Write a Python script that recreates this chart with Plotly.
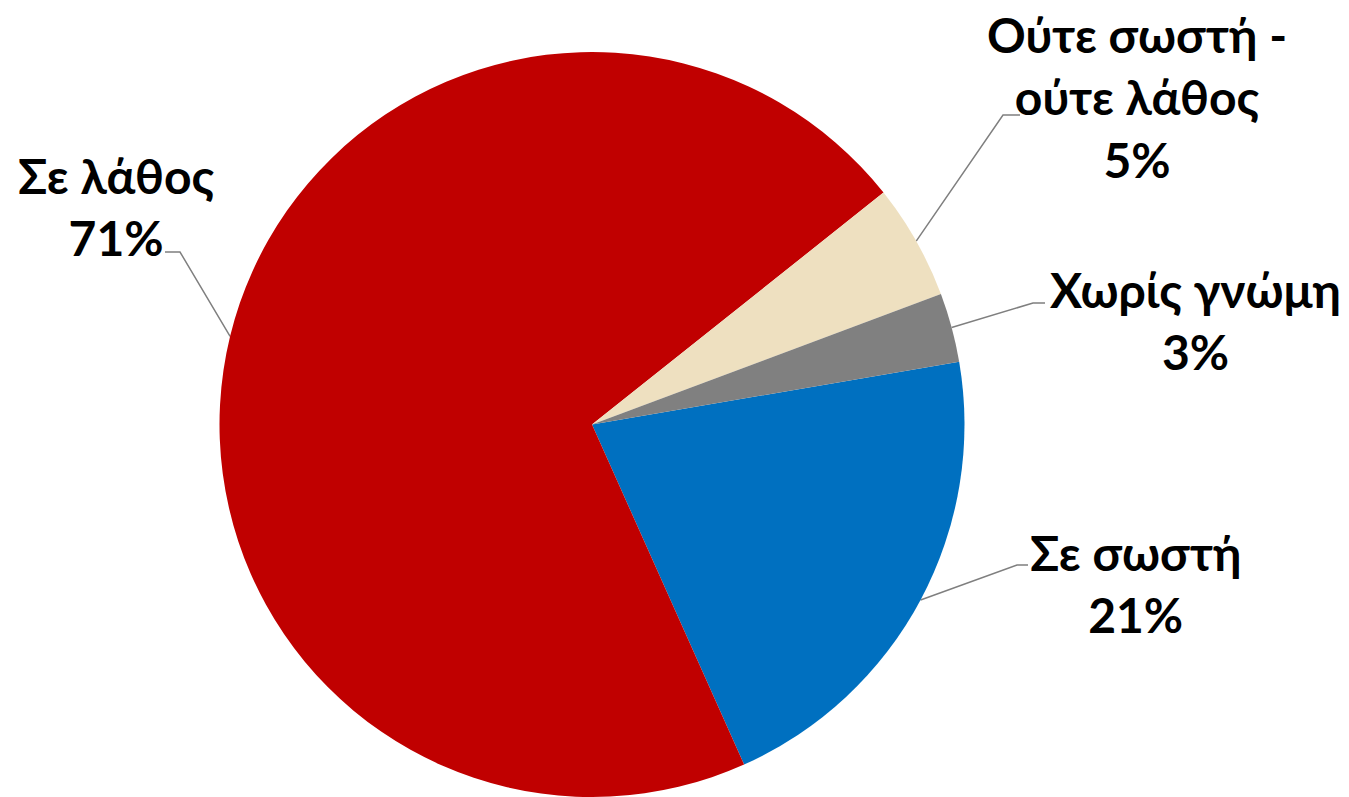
import math
import plotly.graph_objects as go

labels = ["Σε σωστή", "Σε λάθος", "Ούτε σωστή -<br>ούτε λάθος", "Χωρίς γνώμη"]
values = [21, 71, 5, 3]
colors = ["#0070C0", "#C00000", "#EEE0C0", "#808080"]

W, H = 1349, 797
rotation = 80.3
# pie placement (pixels)
px_l, px_r, px_t, px_b = 219, 965, 52, 797
cx = (px_l + px_r) / 2
cy = (px_t + px_b) / 2
r = min(px_r - px_l, px_b - px_t) / 2

# label anchor positions (pixels): text center, leader-line elbow, line start
label_pos = [
    dict(tx=1135, ty=583, elbow=(1017, 565), start=(1028, 565)),
    dict(tx=116, ty=206, elbow=(180, 252), start=(165, 252)),
    dict(tx=1137, ty=97, elbow=(1003, 115), start=(1020, 115)),
    dict(tx=1195, ty=320, elbow=(1033, 303), start=(1045, 303)),
]

fig = go.Figure()
fig.add_trace(go.Pie(
    labels=labels, values=values, sort=False, direction="clockwise",
    rotation=rotation, marker=dict(colors=colors, line=dict(width=0)),
    textinfo="none", hoverinfo="label+percent", showlegend=False,
    domain=dict(x=[px_l / W, px_r / W], y=[0, 1 - px_t / H]),
))

total = sum(values)
cum = 0
for lab, v, pos in zip(labels, values, label_pos):
    mid = rotation + 360 * (cum + v / 2) / total
    cum += v
    a = math.radians(mid)
    ex = cx + r * math.sin(a)
    ey = cy - r * math.cos(a)
    fig.add_trace(go.Scatter(
        x=[pos["start"][0], pos["elbow"][0], ex],
        y=[pos["start"][1], pos["elbow"][1], ey],
        mode="lines", line=dict(color="#7F7F7F", width=1.5),
        hoverinfo="skip", showlegend=False,
    ))
    pct = round(100 * v / total)
    fig.add_annotation(
        x=pos["tx"], y=pos["ty"], xref="x", yref="y",
        text=f"<b>{lab}<br>{pct}%</b>", showarrow=False,
        font=dict(family="Lato", size=48, color="#000000"),
        align="center", xanchor="center", yanchor="middle",
    )

fig.update_layout(
    width=W, height=H, margin=dict(l=0, r=0, t=0, b=0),
    paper_bgcolor="white", plot_bgcolor="rgba(0,0,0,0)",
    xaxis=dict(range=[0, W], visible=False, fixedrange=True),
    yaxis=dict(range=[H, 0], visible=False, fixedrange=True),
)
fig.write_html(
    "out.html",
    config={"displayModeBar": False},
    post_script="document.body.style.margin='0';document.body.style.overflow='hidden';",
)
